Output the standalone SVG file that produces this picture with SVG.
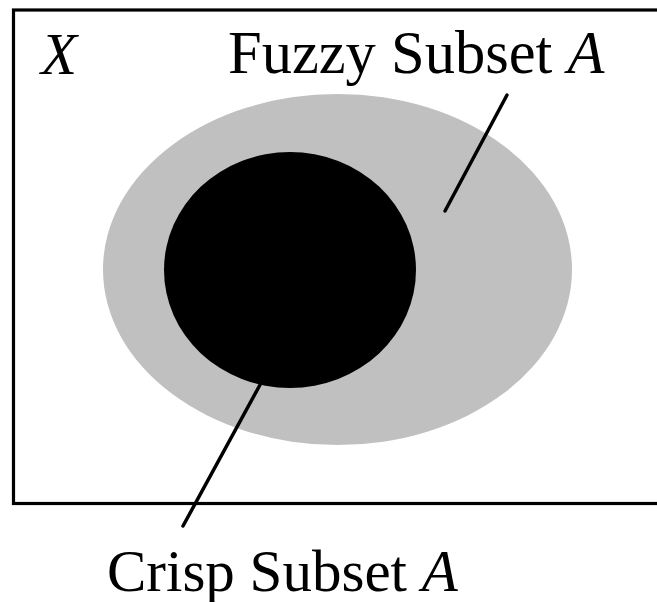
<svg xmlns="http://www.w3.org/2000/svg" width="657" height="602" viewBox="0 0 657 602">
<style>
.lbl{font-family:"Liberation Serif","Times New Roman",serif;font-size:59px;fill:#000}
.it{font-style:italic}
.ln{stroke:#000;stroke-width:3.5;stroke-linecap:round;fill:none}
</style>
<rect width="657" height="602" fill="#fff"/>
<g id="universe">
<rect x="13.5" y="10" width="660" height="493.5" fill="none" stroke="#000" stroke-width="3.2"/>
<text class="lbl it" x="41" y="74">X</text>
</g>
<g id="fuzzy">
<ellipse cx="337.5" cy="269.5" rx="234.5" ry="175.5" fill="#c0c0c0"/>
<text class="lbl" x="228" y="73" style="font-size:60.5px">Fuzzy Subset <tspan class="it">A</tspan></text>
</g>
<g id="crisp">
<ellipse cx="290" cy="270" rx="126" ry="118" fill="#000"/>
<text class="lbl" x="107" y="591">Crisp Subset <tspan class="it">A</tspan></text>
</g>
<g id="connectors">
<line class="ln" x1="507" y1="95" x2="445" y2="211"/>
<line class="ln" x1="261" y1="383" x2="183" y2="526"/>
</g>
</svg>
